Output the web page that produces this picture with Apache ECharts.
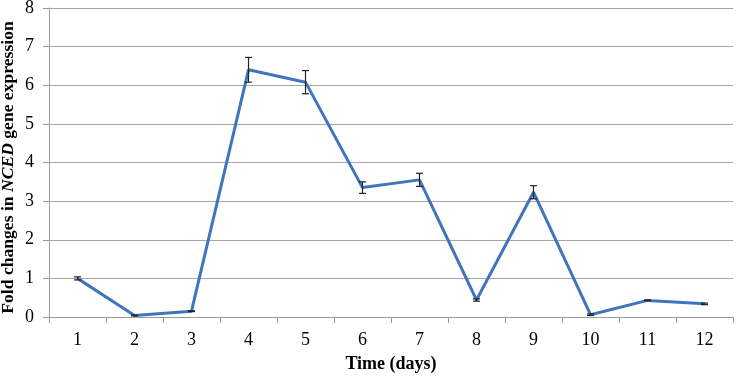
<!DOCTYPE html>
<html>
<head>
<meta charset="utf-8">
<script src="https://cdn.jsdelivr.net/npm/echarts@6/dist/echarts.min.js"></script>
<style>
  html, body { margin: 0; padding: 0; background: #fff; }
  #chart { width: 737px; height: 376px; }
</style>
</head>
<body>
<div id="chart"></div>
<script>
// fold change per day
var days = ['1', '2', '3', '4', '5', '6', '7', '8', '9', '10', '11', '12'];
var foldChange = [1.0, 0.04, 0.15, 6.4, 6.08, 3.35, 3.55, 0.44, 3.23, 0.06, 0.43, 0.34];
var errorBars = [0.04, 0.01, 0.01, 0.32, 0.3, 0.15, 0.17, 0.03, 0.17, 0.02, 0.01, 0.02];
var yTicks = [0, 8, 1]; // min, max, interval

var serif = '"Liberation Serif", "Times New Roman", serif';

var chart = echarts.init(document.getElementById('chart'));

var errData = days.map(function (d, i) {
    return [i, foldChange[i] - errorBars[i], foldChange[i] + errorBars[i]];
});

var options = {
    animation: false,
    grid: { left: 49, right: 4, top: 8, bottom: 59, containLabel: false, outerBoundsMode: 'none' },
    xAxis: {
        type: 'category',
        data: days,
        boundaryGap: true,
        name: 'Time (days)',
        nameLocation: 'middle',
        nameGap: 38,
        nameMoveOverlap: false,
        nameTextStyle: { fontFamily: serif, fontWeight: 'bold', fontSize: 18, color: '#000' },
        axisLine: { lineStyle: { color: '#9a9a9a', width: 1 } },
        axisTick: { show: true, length: 6, alignWithLabel: false, lineStyle: { color: '#9a9a9a' } },
        axisLabel: { fontFamily: serif, fontSize: 18, color: '#000', margin: 14 }
    },
    yAxis: {
        type: 'value',
        min: yTicks[0],
        max: yTicks[1],
        interval: yTicks[2],
        name: '{b|Fold changes in }{i|NCED}{b| gene expression}',
        nameLocation: 'middle',
        nameGap: 32,
        nameMoveOverlap: false,
        nameTextStyle: {
            padding: [0, 10, 0, 0],
            rich: {
                b: { fontFamily: serif, fontWeight: 'bold', fontSize: 17.6, color: '#000' },
                i: { fontFamily: serif, fontWeight: 'bold', fontStyle: 'italic', fontSize: 17.6, color: '#000' }
            }
        },
        axisLine: { show: true, lineStyle: { color: '#9a9a9a', width: 1 } },
        axisTick: { show: true, length: 6, lineStyle: { color: '#9a9a9a' } },
        axisLabel: { fontFamily: serif, fontSize: 18, color: '#000', margin: 15 },
        splitLine: { lineStyle: { color: '#a6a6a6', width: 1 } }
    },
    series: [
        {
            type: 'line',
            data: foldChange,
            symbol: 'none',
            lineStyle: { color: '#3f75bc', width: 3 },
            z: 3
        },
        {
            type: 'custom',
            data: errData,
            z: 4,
            renderItem: function (params, api) {
                var x = api.value(0);
                var lo = api.coord([x, api.value(1)]);
                var hi = api.coord([x, api.value(2)]);
                var hw = 3.5;
                var st = { stroke: '#222', lineWidth: 1.2 };
                return {
                    type: 'group',
                    children: [
                        { type: 'line', shape: { x1: lo[0], y1: lo[1], x2: hi[0], y2: hi[1] }, style: st },
                        { type: 'line', shape: { x1: lo[0] - hw, y1: lo[1], x2: lo[0] + hw, y2: lo[1] }, style: st },
                        { type: 'line', shape: { x1: hi[0] - hw, y1: hi[1], x2: hi[0] + hw, y2: hi[1] }, style: st }
                    ]
                };
            }
        }
    ]
};
chart.setOption(options);
</script>
</body>
</html>
